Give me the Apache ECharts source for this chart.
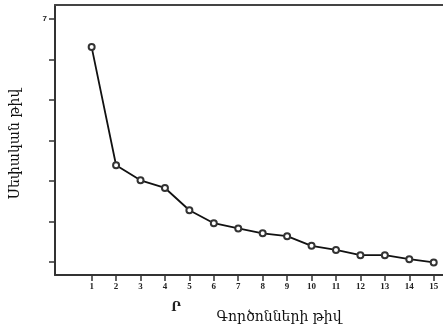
<!DOCTYPE html>
<html>
<head>
<meta charset="utf-8">
<script src="https://cdn.jsdelivr.net/npm/echarts@6/dist/echarts.min.js"></script>
<style>html,body{margin:0;padding:0;background:#fff;}#c{width:443px;height:330px;}</style>
</head>
<body>
<div id="c"></div>
<script>
var factors = [1,2,3,4,5,6,7,8,9,10,11,12,13,14,15];
var eigenvalues = [6.31,3.39,3.02,2.83,2.28,1.96,1.83,1.71,1.64,1.40,1.30,1.17,1.17,1.07,0.99];
var yTicks = [1,2,3,4,5,6,7];
var yLabels = [7];
var xTitle = 'Գործոնների թիվ';
var yTitle = 'Սեփական թիվ';

var chart = echarts.init(document.getElementById('c'));
chart.setOption({
  animation: false,
  backgroundColor: '#fff',
  grid: {left: 55, top: 5, right: 0, bottom: 55, show: false},
  xAxis: [{
    type: 'value', min: -0.5, max: 15.38,
    axisLine: {onZero: false, lineStyle: {color: '#333', width: 2}},
    axisTick: {show: true, customValues: factors, length: 6, lineStyle: {color: '#333', width: 1.5}},
    axisLabel: {customValues: factors, margin: 7, fontFamily: 'Liberation Serif', fontWeight: 'bold', fontSize: 9, color: '#222'},
    splitLine: {show: false}
  }, {
    type: 'value', position: 'top', min: -0.5, max: 15.38,
    axisLine: {show: true, onZero: false, lineStyle: {color: '#444', width: 2}},
    axisTick: {show: false}, axisLabel: {show: false}, splitLine: {show: false}
  }],
  yAxis: {
    type: 'value', min: 0.68, max: 7.35,
    axisLine: {show: true, onZero: false, lineStyle: {color: '#333', width: 2}},
    axisTick: {show: true, customValues: yTicks, length: 6, lineStyle: {color: '#333', width: 1.5}},
    axisLabel: {customValues: yLabels, margin: 8, fontFamily: 'Liberation Sans', fontWeight: 'bold', fontSize: 8, color: '#222'},
    splitLine: {show: false}
  },
  graphic: [
    {type: 'text', x: 279, y: 317, style: {text: xTitle, font: '14px "DejaVu Serif"', fill: '#111', align: 'center', verticalAlign: 'middle'}},
    {type: 'text', x: 15, y: 144, rotation: Math.PI/2, style: {text: yTitle, font: '14px "DejaVu Serif"', fill: '#111', align: 'center', verticalAlign: 'middle'}},
    {type: 'text', x: 176, y: 308, style: {text: 'Ր', font: 'bold 12px "DejaVu Serif"', fill: '#222', align: 'center', verticalAlign: 'middle'}}
  ],
  series: [{
    type: 'line',
    xAxisIndex: 0,
    data: factors.map(function(f, i){ return [f, eigenvalues[i]]; }),
    symbol: 'emptyCircle', symbolSize: 6,
    lineStyle: {color: '#111', width: 1.8},
    itemStyle: {color: '#333', borderColor: '#333', borderWidth: 1}
  }]
});
</script>
</body>
</html>
